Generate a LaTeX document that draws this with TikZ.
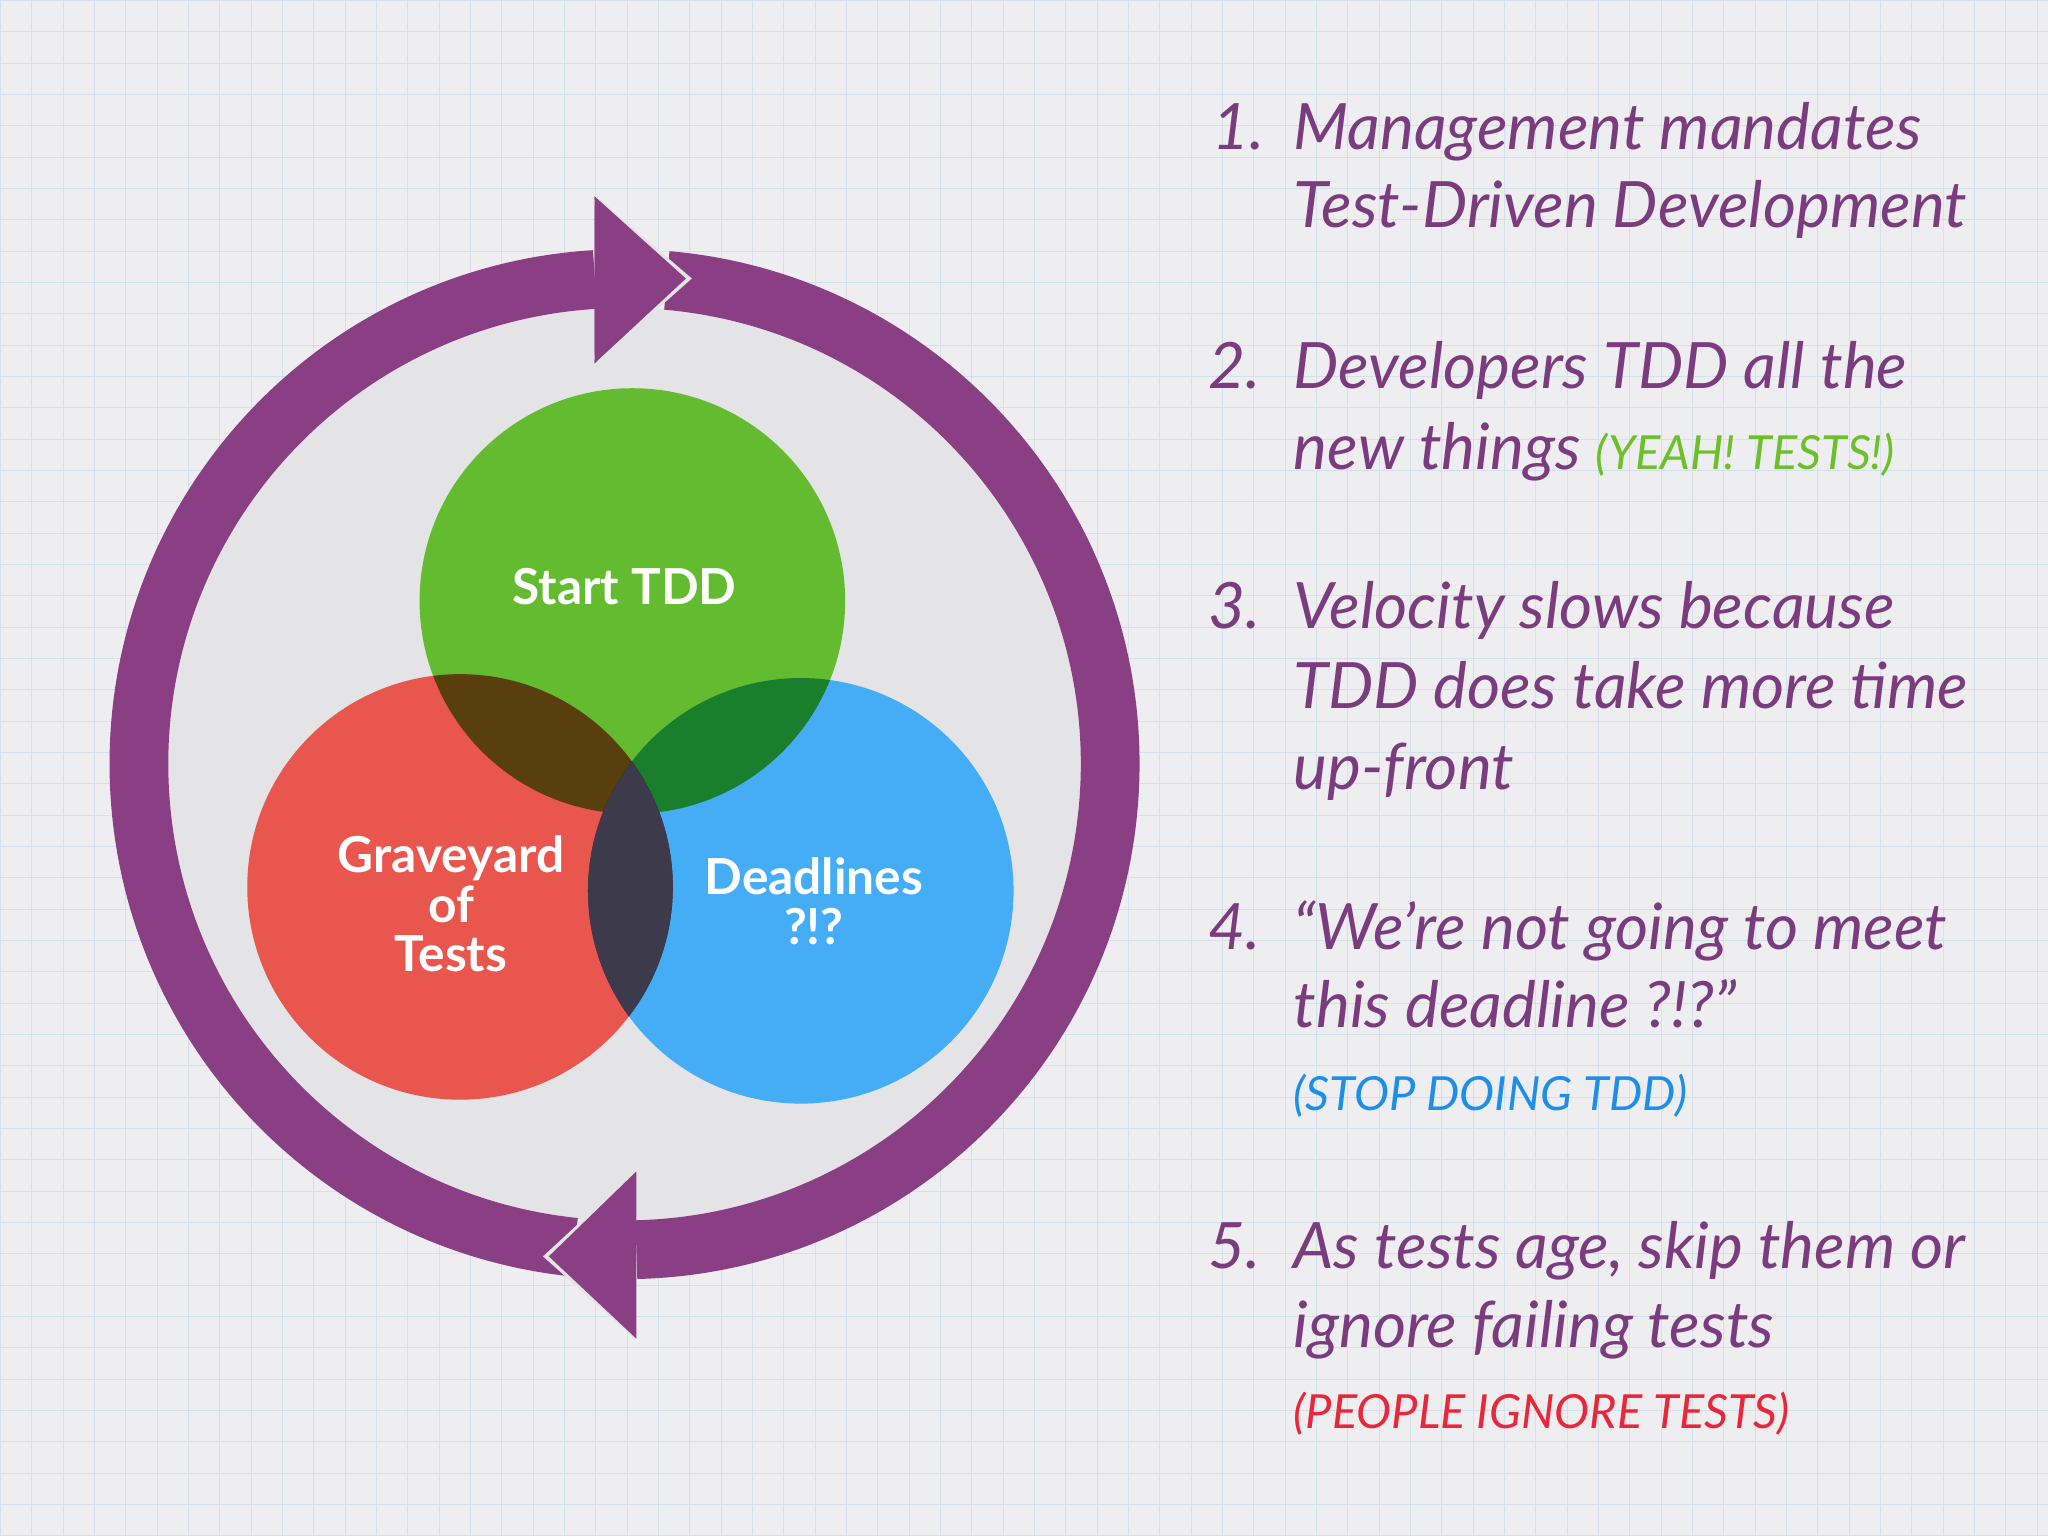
\documentclass[tikz,border=0pt]{standalone}
\usepackage{fontspec}
\setmainfont{Lato}
\usetikzlibrary{calc}
\definecolor{bg}{HTML}{EEEEF1}
\definecolor{gridc}{HTML}{D3E1EC}
\definecolor{ring}{HTML}{8A3F84}
\definecolor{disk}{HTML}{E4E3E6}
\definecolor{cgreen}{HTML}{63BC2F}
\definecolor{cred}{HTML}{E9564D}
\definecolor{cblue}{HTML}{45ADF5}
\definecolor{slate}{HTML}{3D3A4B}
\definecolor{tpurple}{HTML}{7B3B7F}
\definecolor{tgreen}{HTML}{6CC02A}
\definecolor{tblue}{HTML}{1E8FE8}
\definecolor{tred}{HTML}{E8283A}
\begin{document}
\begin{tikzpicture}[x=0.5pt,y=0.5pt,
  lbl/.style={text=white,font=\fontsize{19}{22}\selectfont\bfseries,align=center},
  itm/.style={anchor=base west,text=tpurple,font=\fontsize{24.5}{28}\selectfont\itshape,inner sep=0pt},
  sub/.style={anchor=base west,font=\fontsize{18}{21}\selectfont\itshape,inner sep=0pt}]
\fill[bg] (0,0) rectangle (1568,1176);
\draw[gridc,line width=0.4pt,step=24] (0,0) grid (1568,1176);
\useasboundingbox (0,0) rectangle (1568,1176);
\coordinate (c) at (478,591);
\fill[disk] (c) circle[radius=350];
% ring arcs
\draw[ring,line width=22.5pt] ($(c)+(93.5:372)$) arc[start angle=93.5,end angle=264.1,radius=372];
\draw[ring,line width=22.5pt] ($(c)+(85:372)$) arc[start angle=85,end angle=-88.6,radius=372];
% arrowheads
\coordinate (t1) at (455,1026); \coordinate (t2) at (525,963); \coordinate (t3) at (455,898);
\fill[ring] (t1) -- (t2) -- (t3) -- cycle;
\draw[disk,line width=3pt,line join=miter] ($(t1)+(0,-3)$) -- (t2) -- ($(t3)+(0,3)$);
\fill[ring] (t1) -- (t2) -- (t3) -- cycle;
\coordinate (b1) at (487,279); \coordinate (b2) at (420,214); \coordinate (b3) at (487,151);
\draw[disk,line width=3pt,line join=miter] ($(b1)+(0,-3)$) -- (b2) -- ($(b3)+(0,3)$);
\fill[ring] (b1) -- (b2) -- (b3) -- cycle;
% venn
\coordinate (g) at (484,716); \coordinate (r) at (352,497); \coordinate (bl) at (613,494);
\begin{scope}[blend group=multiply]
\fill[cgreen] (g) circle[radius=163];
\fill[cred] (r) circle[radius=163];
\fill[cblue] (bl) circle[radius=163];
\end{scope}
\begin{scope}
\clip (r) circle[radius=163];
\fill[slate] (bl) circle[radius=163];
\end{scope}
\node[lbl] (ls) at (478,727) {Start TDD};
\node[lbl] (lg) at (345,484) {Graveyard\\[-3pt]of\\[-3pt]Tests};
\node[lbl] (ld) at (623,486) {Deadlines\\[-3pt]?!?};
% list
\node[itm] (n1) at (928,1062) {1.};
\node[itm] (a1) at (990,1062) {Management mandates};
\node[itm] (a1b) at (990,1002) {Test-Driven Development};
\node[itm] (n2) at (925,879) {2.};
\node[itm] (a2) at (990,879) {Developers TDD all the};
\node[itm] (a2b) at (990,817) {new things \textcolor{tgreen}{\fontsize{18}{21}\selectfont(YEAH! TESTS!)}};
\node[itm] (n3) at (925,695) {3.};
\node[itm] (a3) at (990,695) {Velocity slows because};
\node[itm] (a3b) at (990,634) {TDD does take more time};
\node[itm] (a3c) at (990,572) {up-front};
\node[itm] (n4) at (925,449) {4.};
\node[itm] (a4) at (990,449) {“We’re not going to meet};
\node[itm] (a4b) at (990,389) {this deadline ?!?”};
\node[sub,text=tblue] (a4c) at (990,326) {(STOP DOING TDD)};
\node[itm] (n5) at (925,205) {5.};
\node[itm] (a5) at (990,205) {As tests age, skip them or};
\node[itm] (a5b) at (990,144) {ignore failing tests};
\node[sub,text=tred] (a5c) at (990,82) {(PEOPLE IGNORE TESTS)};
\end{tikzpicture}
\end{document}
